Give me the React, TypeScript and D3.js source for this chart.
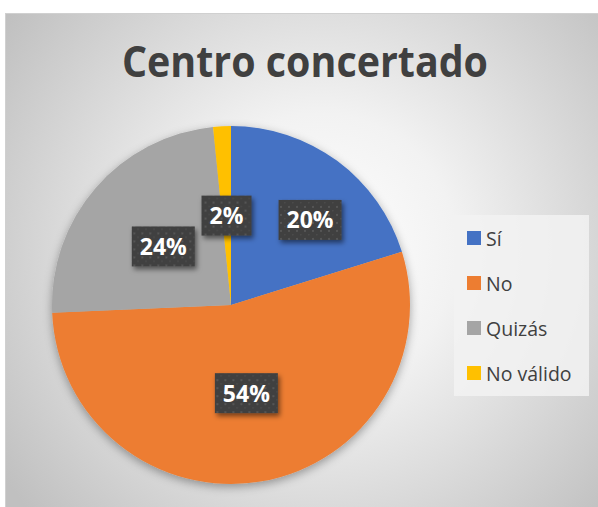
import React from 'react'
import * as d3 from 'd3';

const categories = ['Sí', 'No', 'Quizás', 'No válido'];
const values = [20.2, 54.1, 24.1, 1.6];
const colors = ['#4472C4', '#ED7D31', '#A5A5A5', '#FFC000'];
const chartTitle = 'Centro concertado';

const W = 598;
const H = 507;
const FONT = "'Open Sans', 'DejaVu Sans', sans-serif";

type Box = { x0: number, x1: number, y0: number, y1: number };

const overlaps = (a: Box, b: Box, pad: number) =>
  a.x0 < b.x1 + pad && a.x1 + pad > b.x0 && a.y0 < b.y1 + pad && a.y1 + pad > b.y0;

const PieChart = () => {
  const cx = 231;
  const cy = 305;
  const radius = 179;

  const total = d3.sum(values);
  const pct = d3.format('.0%');

  const arcs = d3.pie<number>().sort(null).value(d => d)(values);
  const arcGen = d3.arc<d3.PieArcDatum<number>>().innerRadius(0).outerRadius(radius);

  // data labels: start at half radius; if one nearly touches another, nudge it sideways
  const labels: { text: string, cx: number, cy: number, w: number, h: number }[] = [];
  const placed: Box[] = [];
  for (let i = arcs.length - 1; i >= 0; i--) {
    const a = arcs[i];
    const mid = (a.startAngle + a.endAngle) / 2;
    const text = pct(values[i] / total);
    const w = text.length * 13 + 24;
    const h = 40;
    let x = Math.sin(mid) * radius * 0.5;
    let y = -Math.cos(mid) * radius * 0.5;
    const sx = Math.sign(Math.sin(mid)) || 1;
    const sy = -0.5 * (Math.sign(Math.cos(mid)) || 1);
    const mk = (): Box => ({ x0: x - w / 2, x1: x + w / 2, y0: y - h / 2, y1: y + h / 2 });
    let box = mk();
    if (placed.some(p => overlaps(box, p, 5))) {
      let n = 0;
      while (placed.some(p => overlaps(box, p, 27)) && n < 200) {
        x += sx; y += sy; n++;
        box = mk();
      }
    }
    placed.push(box);
    labels.push({ text, cx: x, cy: y, w, h });
  }

  const legendY = d3.scalePoint<string>().domain(categories).range([238, 373]);

  return (
    <svg width={W} height={H} style={{ position: 'absolute', left: 0, top: 0 }}>
      <defs>
        <radialGradient id='bg' gradientUnits='userSpaceOnUse' cx={320} cy={250} r={390}>
          <stop offset='0%' stopColor='#ffffff' />
          <stop offset='35%' stopColor='#f2f2f2' />
          <stop offset='100%' stopColor='#c0c0c0' />
        </radialGradient>
        <pattern id='dots' width={8} height={8} patternUnits='userSpaceOnUse'>
          <rect width={8} height={8} fill='#404040' />
          <rect x={2} y={2} width={2} height={2} fill='#555555' />
          <rect x={6} y={6} width={1.5} height={1.5} fill='#4c4c4c' />
        </pattern>
        <filter id='pieShadow' x='-20%' y='-20%' width='140%' height='140%'>
          <feDropShadow dx={0} dy={3} stdDeviation={5} floodColor='#000' floodOpacity={0.35} />
        </filter>
        <filter id='lblShadow' x='-30%' y='-30%' width='160%' height='160%'>
          <feDropShadow dx={2} dy={3} stdDeviation={2.5} floodColor='#000' floodOpacity={0.5} />
        </filter>
      </defs>

      <rect x={0} y={0} width={W} height={H} fill='#ffffff' />
      <rect x={5.5} y={13.5} width={W} height={H} fill='url(#bg)' stroke='#d0d0d0' strokeWidth={1} />

      <text x={305} y={77} textAnchor='middle' fontFamily={FONT} fontWeight='bold' fontSize={43}
        fill='#404040' textLength={366} lengthAdjust='spacingAndGlyphs'>{chartTitle}</text>

      <g transform={`translate(${cx},${cy})`}>
        <g filter='url(#pieShadow)'>
          {arcs.map((a, i) => <path key={i} d={arcGen(a) || ''} fill={colors[i]} />)}
        </g>
        {labels.map((l, i) =>
          <g key={i} transform={`translate(${l.cx},${l.cy})`}>
            <rect x={-l.w / 2} y={-l.h / 2} width={l.w} height={l.h} fill='url(#dots)' filter='url(#lblShadow)' />
            <text y={8.5} textAnchor='middle' fontFamily={FONT} fontWeight='bold' fontSize={23} fill='#ffffff'>{l.text}</text>
          </g>
        )}
      </g>

      <g>
        <rect x={454} y={215} width={135} height={181} fill='#f2f2f2' fillOpacity={0.85} />
        {categories.map((c, i) =>
          <g key={c} transform={`translate(467,${legendY(c)})`}>
            <rect x={0} y={-7} width={14} height={14} fill={colors[i]} />
            <text x={19} y={7.5} fontFamily={FONT} fontSize={19.5} fill='#404040'>{c}</text>
          </g>
        )}
      </g>
    </svg>
  )
}

const App = () => <PieChart />

export default App
